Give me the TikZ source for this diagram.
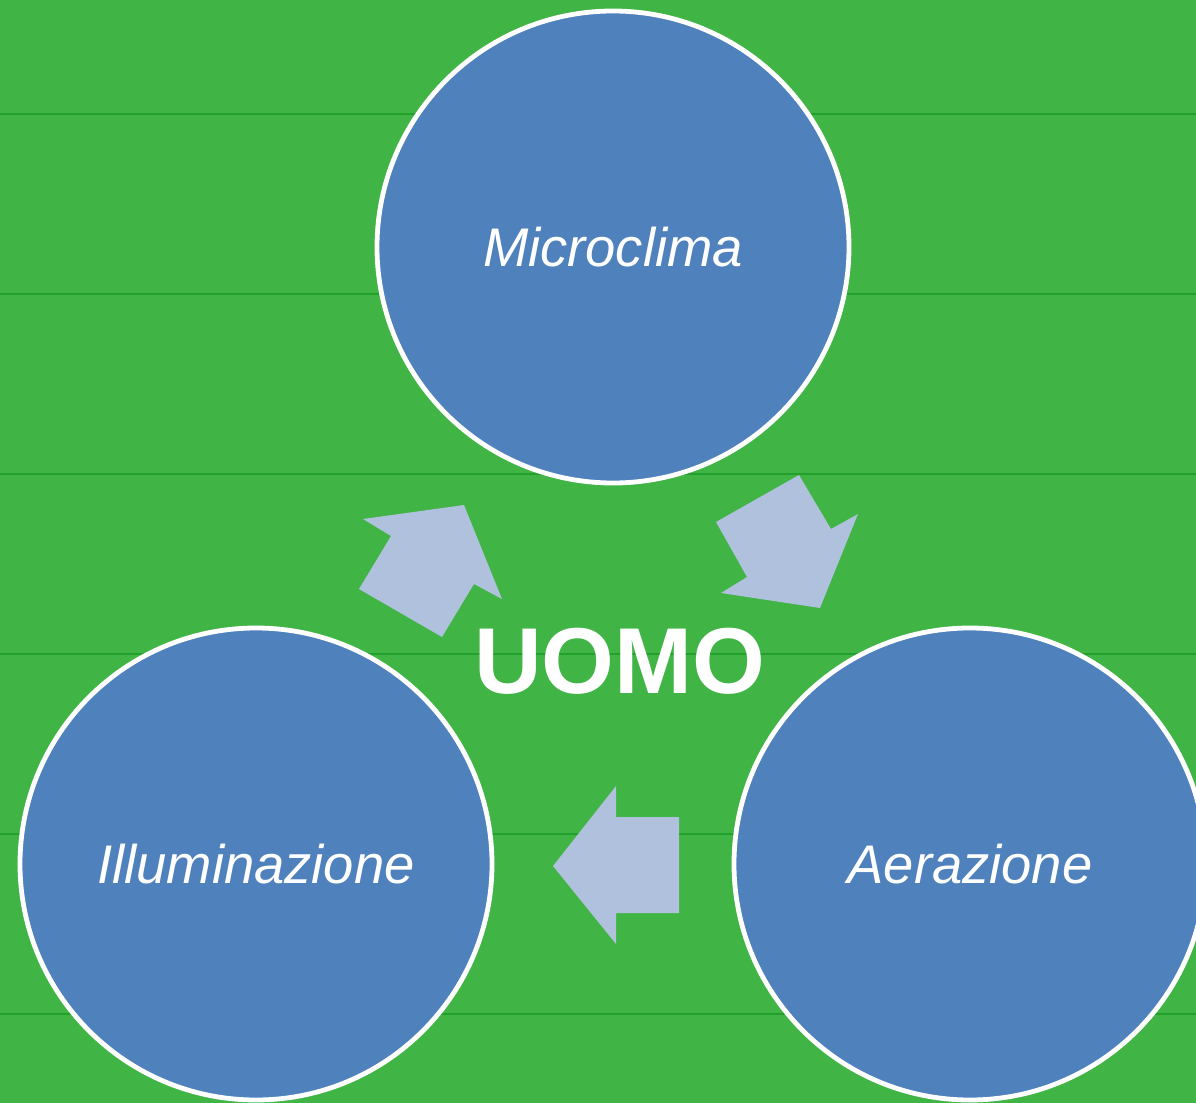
\documentclass[tikz,border=0pt]{standalone}
\usepackage{fontspec}
\setmainfont{Liberation Sans}
\begin{document}
\begin{tikzpicture}[x=0.5pt,y=-0.5pt,
  bgline/.style={draw=bgdark,line width=1.2pt},
  ring/.style={circle,draw=white,line width=2.4pt,fill=ringblue,minimum size=472*0.5pt,inner sep=0pt,
    text=white,font=\fontsize{27.2}{30}\selectfont\itshape},
  blockarrow/.style={fill=arrowblue,draw=none}]
\definecolor{bggreen}{HTML}{40B444}
\definecolor{bgdark}{HTML}{22A02C}
\definecolor{ringblue}{HTML}{4F81BD}
\definecolor{arrowblue}{HTML}{B0C1DE}
\useasboundingbox (0,0) rectangle (1196,1103);
\clip (0,0) rectangle (1196,1103);
\fill[bggreen] (0,0) rectangle (1196,1103);
\foreach \yy in {114,294,474,654,834,1014}
  \draw[bgline] (0,\yy) -- (1196,\yy);
% circles
\node[ring] (micro) at (613,247) {Microclima};
\node[ring] (illu) at (256,864) {Illuminazione};
\node[ring] (aera) at (970,864) {Aerazione};
% centre text
\node[text=white,font=\fontsize{46.8}{50}\selectfont\bfseries] (uomo) at (620,661) {UOMO};
% block arrows
\fill[blockarrow] (363,519) -- (464,505) -- (502,599) -- (474,584) -- (442,637) -- (359,589) -- (391,536) -- cycle;
\fill[blockarrow] (716,522) -- (799,475) -- (831,529) -- (858,514) -- (820,608) -- (721,593) -- (747,577) -- cycle;
\fill[blockarrow] (553,866) -- (616,786) -- (616,817) -- (679,817) -- (679,913) -- (616,913) -- (616,944) -- cycle;
\end{tikzpicture}
\end{document}
